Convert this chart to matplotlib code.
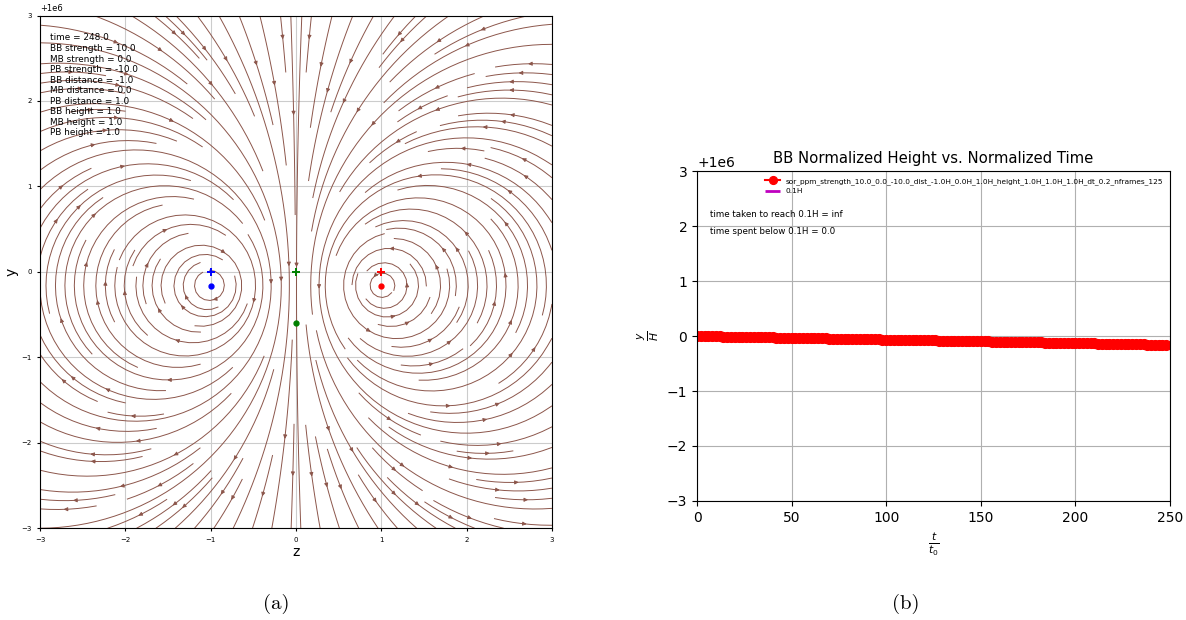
import matplotlib.pyplot as plt
import numpy as np

# --- panel (a) : field of the wires ---
wire_z = [-1.0, 0.0, 1.0]
wire_strength = [10.0, 0.0, -10.0]
wire_dot_y = [-0.16, -0.6, -0.16]
wire_colors = ['blue', 'green', 'red']
y_offset = 1e6

info_lines = ["time = 248.0", "BB strength = 10.0", "MB strength = 0.0",
              "PB strength = -10.0", "BB distance = -1.0", "MB distance = 0.0",
              "PB distance = 1.0", "BB height = 1.0", "MB height = 1.0",
              "PB height = 1.0"]

# --- panel (b) : normalized height vs time ---
t_vals = np.arange(0, 250, 2)
h_vals = -np.array([
    0.000, 0.001, 0.003, 0.004, 0.005, 0.006, 0.008, 0.009, 0.010, 0.012,
    0.013, 0.014, 0.015, 0.017, 0.018, 0.019, 0.021, 0.022, 0.023, 0.025,
    0.026, 0.027, 0.028, 0.030, 0.031, 0.032, 0.034, 0.035, 0.036, 0.037,
    0.039, 0.040, 0.041, 0.043, 0.044, 0.045, 0.046, 0.048, 0.049, 0.050,
    0.052, 0.053, 0.054, 0.055, 0.057, 0.058, 0.059, 0.061, 0.062, 0.063,
    0.065, 0.066, 0.067, 0.068, 0.070, 0.071, 0.072, 0.074, 0.075, 0.076,
    0.077, 0.079, 0.080, 0.081, 0.083, 0.084, 0.085, 0.086, 0.088, 0.089,
    0.090, 0.092, 0.093, 0.094, 0.095, 0.097, 0.098, 0.099, 0.101, 0.102,
    0.103, 0.104, 0.106, 0.107, 0.108, 0.110, 0.111, 0.112, 0.114, 0.115,
    0.116, 0.117, 0.119, 0.120, 0.121, 0.123, 0.124, 0.125, 0.126, 0.128,
    0.129, 0.130, 0.132, 0.133, 0.134, 0.135, 0.137, 0.138, 0.139, 0.141,
    0.142, 0.143, 0.144, 0.146, 0.147, 0.148, 0.150, 0.151, 0.152, 0.154,
    0.155, 0.156, 0.157, 0.159, 0.160])
series_label = "sor_ppm_strength_10.0_0.0_-10.0_dist_-1.0H_0.0H_1.0H_height_1.0H_1.0H_1.0H_dt_0.2_nframes_125"
threshold = 0.1

fig = plt.figure(figsize=(11.86, 6.2), dpi=100)

# (a)
ax1 = fig.add_axes([0.0337, 0.148, 0.4317, 0.827])
z = np.linspace(-3, 3, 200)
yy = np.linspace(-3, 3, 200)
Z, Y = np.meshgrid(z, yy)
Bz = np.zeros_like(Z)
By = np.zeros_like(Z)
for zc, s, yc in zip(wire_z, wire_strength, wire_dot_y):
    dz = Z - zc
    dy = Y - yc
    r2 = dz**2 + dy**2 + 1e-9
    Bz += s * dy / r2
    By += -s * dz / r2
ax1.streamplot(z, yy + y_offset, Bz, By, density=1.8, color='#8c564b',
               linewidth=0.7, arrowsize=0.55)
for zc, yc, c in zip(wire_z, wire_dot_y, wire_colors):
    ax1.plot(zc, y_offset, '+', color=c, ms=6, mew=1.4)
    ax1.plot(zc, yc + y_offset, 'o', color=c, ms=3.5)
ax1.set_xlim(-3, 3)
ax1.set_ylim(y_offset - 3, y_offset + 3)
ax1.grid(True, color='#cccccc', lw=0.8)
ax1.tick_params(labelsize=5, length=2.5)
ax1.yaxis.get_offset_text().set_fontsize(6)
ax1.set_xlabel('z', fontsize=10, labelpad=2)
ax1.set_ylabel('y', fontsize=10, labelpad=2)
ax1.text(0.02, 0.965, "\n".join(info_lines), transform=ax1.transAxes,
         fontsize=6.4, va='top', ha='left', linespacing=1.22)

# (b)
ax2 = fig.add_axes([0.5877, 0.192, 0.3988, 0.532])
ax2.plot(t_vals, h_vals + y_offset, 'ro-', ms=7, label=series_label)
ax2.plot(t_vals, np.full(len(t_vals), threshold), 'm-.', lw=2, label='0.1H')
ax2.set_xlim(0, 250)
ax2.set_ylim(y_offset - 3, y_offset + 3)
ax2.grid(True)
ax2.tick_params(labelsize=10)
ax2.yaxis.get_offset_text().set_fontsize(10)
ax2.set_title('BB Normalized Height vs. Normalized Time', fontsize=10.7)
ax2.set_xlabel(r'$\frac{t}{t_0}$', fontsize=11)
ax2.set_ylabel(r'$\frac{y}{H}$', fontsize=11)
ax2.legend(loc='upper right', fontsize=5.3, frameon=False, markerscale=0.8)
ax2.text(0.027, 0.86, 'time taken to reach 0.1H = inf', transform=ax2.transAxes, fontsize=6.3)
ax2.text(0.027, 0.808, 'time spent below 0.1H = 0.0', transform=ax2.transAxes, fontsize=6.3)

fig.text(0.233, 0.018, '(a)', family='cmr10', fontsize=15, ha='center')
fig.text(0.764, 0.018, '(b)', family='cmr10', fontsize=15, ha='center')

fig.savefig('out.png', dpi=100)
